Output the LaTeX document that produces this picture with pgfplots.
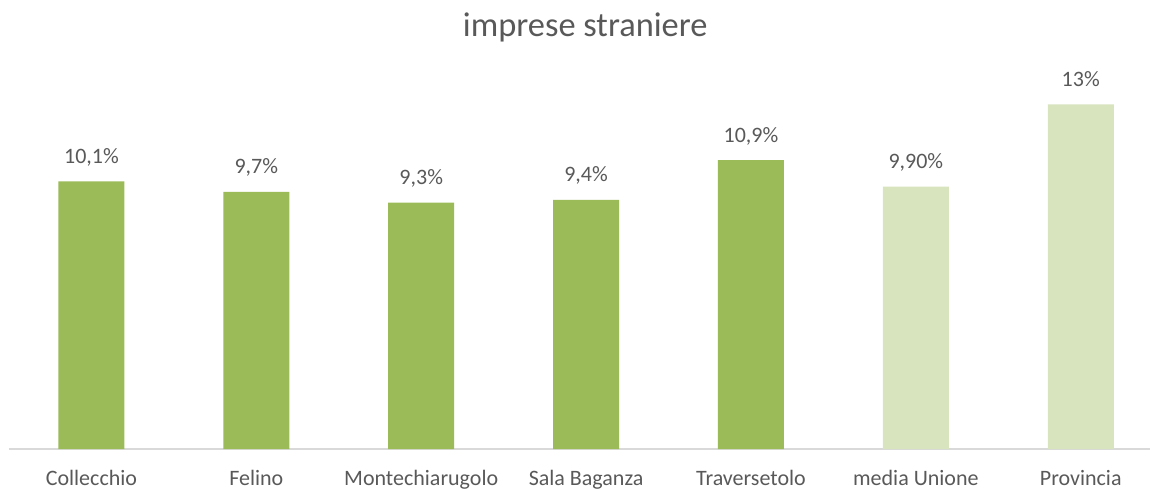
\documentclass[border=0pt]{standalone}
\usepackage{pgfplots}
\pgfplotsset{compat=1.18}
\usepackage{fontspec}
\setmainfont{Carlito}
\definecolor{darkgr}{HTML}{9BBB59}
\definecolor{lightgr}{HTML}{D7E4BD}
\definecolor{txt}{HTML}{595959}
\definecolor{axln}{HTML}{D9D9D9}
\begin{document}
\begin{tikzpicture}
\begin{axis}[
    name=a,
    scale only axis,
    width=570.5pt,
    height=185.5pt,
    xmin=-0.5, xmax=6.42,
    ymin=0, ymax=14,
    clip=false,
    axis x line*=bottom,
    axis y line=none,
    x axis line style={draw=axln, line width=1pt, -},
    xtick={0,1,2,3,4,5,6},
    xticklabels={Collecchio,Felino,Montechiarugolo,Sala Baganza,Traversetolo,media Unione,Provincia},
    major tick length=0pt,
    xticklabel style={anchor=base, yshift=-18pt, font=\fontsize{11}{13}\selectfont, text=txt},
    ybar, bar width=33pt, bar shift=0pt,
    point meta=explicit symbolic,
    nodes near coords,
    nodes near coords style={font=\fontsize{11}{13}\selectfont, text=txt, anchor=base, yshift=9pt},
]
\addplot[draw=none, fill=darkgr] coordinates {
(0,10.1) [10,1\%]
(1,9.7) [9,7\%]
(2,9.3) [9,3\%]
(3,9.4) [9,4\%]
(4,10.9) [10,9\%]
};
\addplot[draw=none, fill=lightgr] coordinates {
(5,9.9) [9,90\%]
(6,13) [13\%]
};
\node[font=\fontsize{17.2}{20}\selectfont, text=txt] at (rel axis cs:0.505,1) [yshift=25.5pt] {imprese straniere};
\end{axis}
\pgfresetboundingbox
\path (a.south west) ++(-4.5pt,-19.5pt) rectangle ++(575.5pt,244pt);
\end{tikzpicture}
\end{document}
